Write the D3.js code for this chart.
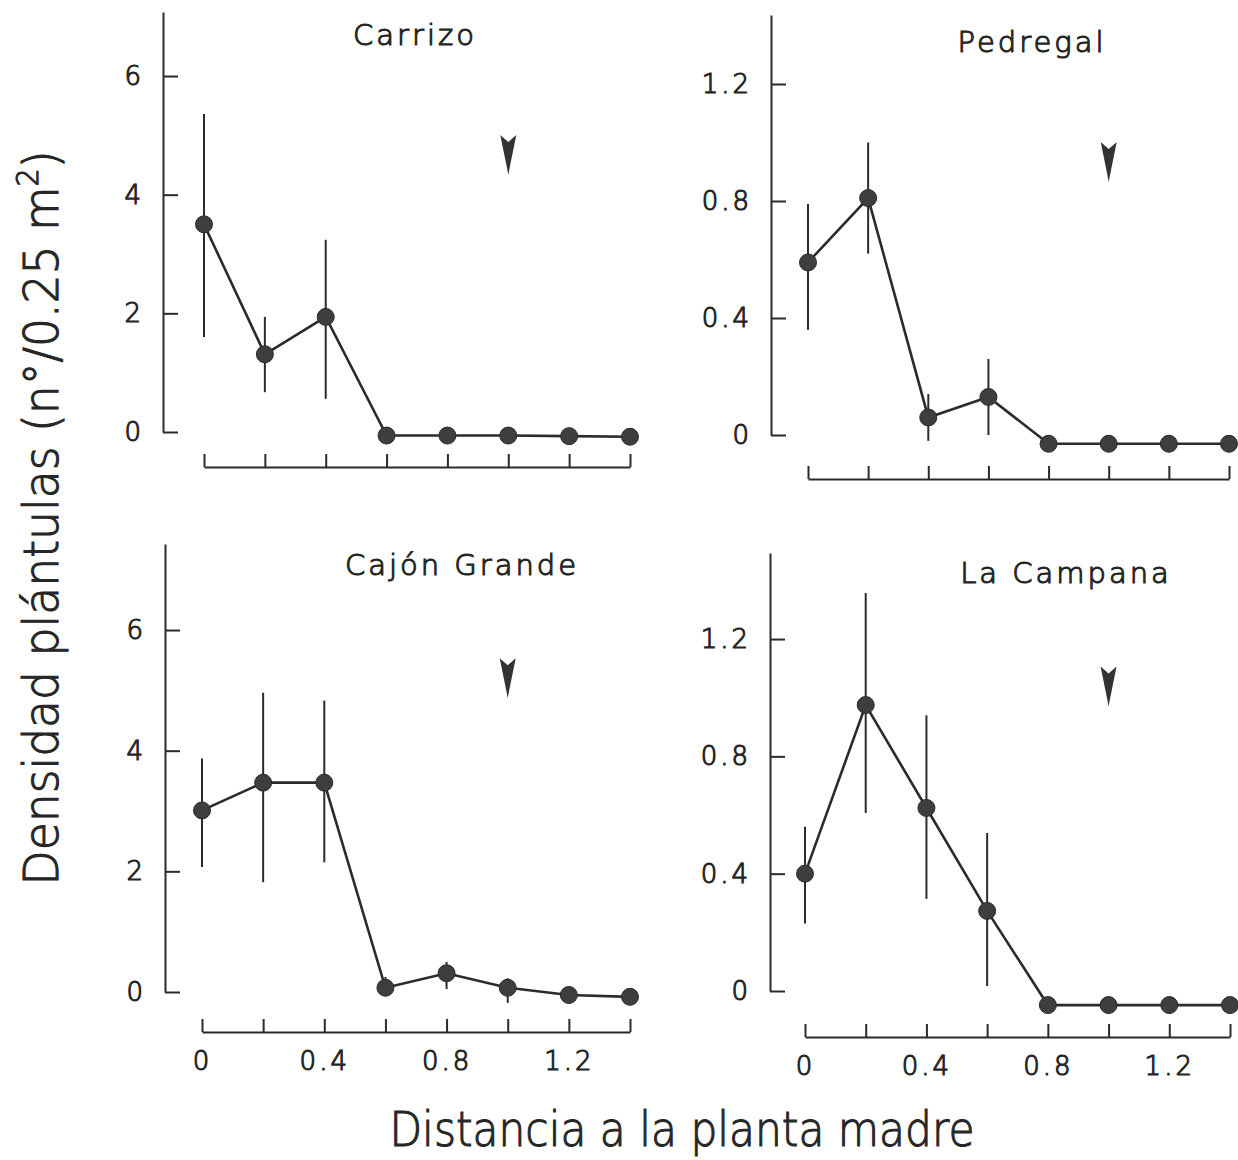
<!DOCTYPE html>
<html>
<head>
<meta charset="utf-8">
<script src="https://cdn.jsdelivr.net/npm/d3@7"></script>
<style>
  body { margin: 0; background: #fff; }
  svg text { font-family: "DejaVu Sans", sans-serif; font-weight: 200; fill: #262626; stroke: #262626; stroke-width: 1.1px; }
</style>
</head>
<body>
<div id="chart"></div>
<script>
// distances from the mother plant (m)
const distances = [0, 0.2, 0.4, 0.6, 0.8, 1.0, 1.2, 1.4];
const sites = ['Carrizo', 'Pedregal', 'Cajón Grande', 'La Campana'];

// seedling density, mean and error bar ends (null = no bar visible)
const carrizoMean = [3.5, 1.31, 1.94, -0.06, -0.06, -0.06, -0.07, -0.08];
const carrizoLow  = [1.6, 0.67, 0.56, null, null, null, null, null];
const carrizoHigh = [5.36, 1.94, 3.24, null, null, null, null, null];

const pedregalMean = [0.59, 0.81, 0.06, 0.13, -0.03, -0.03, -0.03, -0.03];
const pedregalLow  = [0.36, 0.62, -0.02, 0.0, null, null, null, null];
const pedregalHigh = [0.79, 1.0, 0.14, 0.26, null, null, null, null];

const cajonMean = [3.01, 3.47, 3.47, 0.07, 0.31, 0.07, -0.05, -0.08];
const cajonLow  = [2.07, 1.82, 2.15, -0.05, 0.05, -0.18, null, null];
const cajonHigh = [3.87, 4.96, 4.83, 0.25, 0.5, 0.23, null, null];

const campanaMean = [0.4, 0.975, 0.624, 0.273, -0.048, -0.048, -0.048, -0.048];
const campanaLow  = [0.23, 0.607, 0.314, 0.017, null, null, null, null];
const campanaHigh = [0.56, 1.357, 0.94, 0.539, null, null, null, null];

// arrow marks (distance, tip value)
const arrowDistance = [1.0, 1.0, 1.0, 1.0];
const arrowTip = [4.33, 0.865, 4.87, 0.97];

const yTickValues = [[0, 2, 4, 6], [0, 0.4, 0.8, 1.2], [0, 2, 4, 6], [0, 0.4, 0.8, 1.2]];
const xTickLabels = { 0: '0', 0.4: '0.4', 0.8: '0.8', 1.2: '1.2' };

const means = [carrizoMean, pedregalMean, cajonMean, campanaMean];
const lows = [carrizoLow, pedregalLow, cajonLow, campanaLow];
const highs = [carrizoHigh, pedregalHigh, cajonHigh, campanaHigh];

// panel placement in the page
const layout = [
  { axisX: 163, y0: 432, ppu: 59.33, top: 12, x0: 204, x1: 630, base: 467, tx: 415, ty: 45, labels: false },
  { axisX: 771, y0: 435, ppu: 292.5, top: 15, x0: 808, x1: 1229, base: 479, tx: 1032, ty: 52, labels: false },
  { axisX: 165, y0: 992, ppu: 60.33, top: 544, x0: 202, x1: 630, base: 1032, tx: 462, ty: 575, labels: true },
  { axisX: 770, y0: 991, ppu: 293.3, top: 553, x0: 805, x1: 1230, base: 1037, tx: 1066, ty: 583, labels: true }
];

const ink = '#2b2b2b';
const width = 1238;
const height = 1160;

const svg = d3.select('#chart')
  .append('svg')
  .attr('width', width)
  .attr('height', height);

sites.forEach((site, p) => {
  const L = layout[p];
  const y = d3.scaleLinear()
    .domain([0, (L.y0 - L.top) / L.ppu])
    .range([L.y0, L.top]);
  const x = d3.scaleLinear()
    .domain([0, 1.4])
    .range([L.x0, L.x1]);

  const g = svg.append('g');

  // y axis, ticks pointing inward
  const yAxis = d3.axisLeft(y)
    .tickValues(yTickValues[p])
    .tickSizeInner(-15)
    .tickSizeOuter(0)
    .tickPadding(19)
    .tickFormat(d => String(d));
  const ya = g.append('g')
    .attr('transform', `translate(${L.axisX},0)`)
    .call(yAxis);
  ya.select('.domain').attr('stroke', ink).attr('stroke-width', 2);
  ya.selectAll('.tick line').attr('stroke', ink).attr('stroke-width', 2);
  ya.selectAll('.tick text')
    .attr('font-size', 26)
    .attr('letter-spacing', 3)
    .style('font-family', '"DejaVu Sans", sans-serif')
    .attr('fill', ink);

  // separate x baseline with upward ticks
  const xAxis = d3.axisBottom(x)
    .tickValues(distances)
    .tickSizeInner(-13)
    .tickSizeOuter(0)
    .tickPadding(20)
    .tickFormat(d => L.labels ? (xTickLabels[d] || '') : '');
  const xa = g.append('g')
    .attr('transform', `translate(0,${L.base})`)
    .call(xAxis);
  xa.select('.domain').attr('stroke', ink).attr('stroke-width', 2);
  xa.selectAll('.tick line').attr('stroke', ink).attr('stroke-width', 2);
  xa.selectAll('.tick text')
    .attr('font-size', 26)
    .attr('letter-spacing', 3)
    .style('font-family', '"DejaVu Sans", sans-serif')
    .attr('fill', ink);

  // title
  g.append('text')
    .attr('x', L.tx)
    .attr('y', L.ty)
    .attr('text-anchor', 'middle')
    .attr('font-size', 29)
    .attr('letter-spacing', 3)
    .text(site);

  const pts = distances.map((d, i) => ({ d, m: means[p][i], lo: lows[p][i], hi: highs[p][i] }));

  // error bars
  g.selectAll('.err')
    .data(pts.filter(o => o.lo !== null))
    .enter()
    .append('line')
    .attr('x1', o => x(o.d))
    .attr('x2', o => x(o.d))
    .attr('y1', o => y(o.lo))
    .attr('y2', o => y(o.hi))
    .attr('stroke', ink)
    .attr('stroke-width', 2);

  // connecting line
  const line = d3.line()
    .x(o => x(o.d))
    .y(o => y(o.m));
  g.append('path')
    .datum(pts)
    .attr('d', line)
    .attr('fill', 'none')
    .attr('stroke', ink)
    .attr('stroke-width', 2.6);

  // points
  g.selectAll('.pt')
    .data(pts)
    .enter()
    .append('circle')
    .attr('cx', o => x(o.d))
    .attr('cy', o => y(o.m))
    .attr('r', 8.5)
    .attr('fill', '#3e3e3e')
    .attr('stroke', '#2a2a2a')
    .attr('stroke-width', 1);

  // arrow mark
  const ax = x(arrowDistance[p]);
  const ay = y(arrowTip[p]);
  g.append('path')
    .attr('d', `M${ax - 8},${ay - 40} L${ax},${ay - 33} L${ax + 8},${ay - 40} L${ax + 1.5},${ay - 8} L${ax},${ay} L${ax - 1.5},${ay - 8} Z`)
    .attr('fill', '#333');
});

// axis titles
svg.append('text')
  .attr('x', 682)
  .attr('y', 1146)
  .attr('text-anchor', 'middle')
  .attr('font-size', 48)
  .attr('textLength', 585)
  .attr('lengthAdjust', 'spacingAndGlyphs')
  .text('Distancia a la planta madre');

const yl = svg.append('text')
  .attr('transform', 'translate(58,518) rotate(-90)')
  .attr('text-anchor', 'middle')
  .attr('font-size', 48)
  .attr('textLength', 735)
  .attr('lengthAdjust', 'spacingAndGlyphs');
yl.append('tspan').text('Densidad plántulas (n°/0.25 m');
yl.append('tspan').attr('font-size', 30).attr('dy', -20).text('2');
yl.append('tspan').attr('dy', 20).text(')');
</script>
</body>
</html>
